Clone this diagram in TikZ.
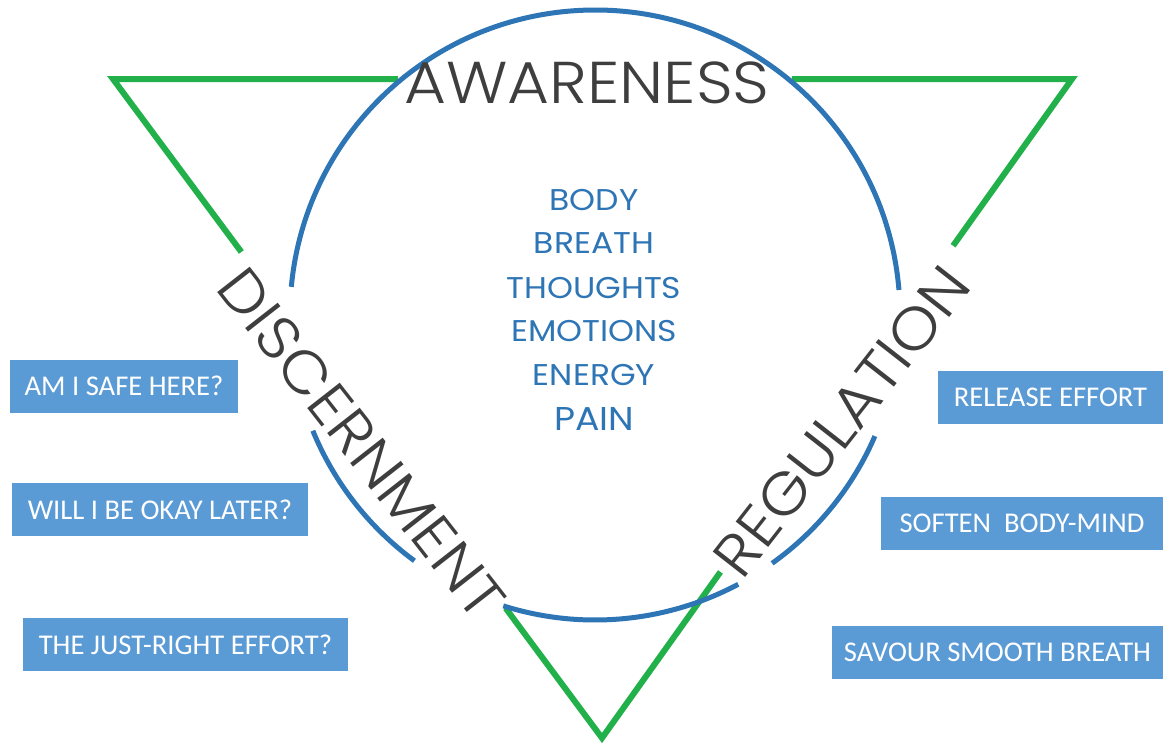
\documentclass[tikz,border=0pt]{standalone}
\usepackage{fontspec}
\usetikzlibrary{calc}
\newfontfamily\thinfont{Poppins Light}[FakeStretch=1.09]
\newfontfamily\listfont{Poppins}[FakeStretch=1.1]
\newfontfamily\boxfont{Carlito}
\definecolor{trigreen}{RGB}{34,176,75}
\definecolor{ringblue}{RGB}{46,117,182}
\definecolor{labelgray}{RGB}{62,62,62}
\definecolor{boxblue}{RGB}{91,155,213}

\begin{document}
\begin{tikzpicture}[x=1pt,y=-1pt,
    tri/.style={draw=trigreen,line width=6pt},
    ring/.style={draw=ringblue,line width=5pt},
    stage/.style={text=labelgray,font=\thinfont\fontsize{59}{62}\selectfont,inner sep=0pt,anchor=base},
    item/.style={text=ringblue,font=\listfont\fontsize{30}{33}\selectfont,inner sep=0pt,anchor=base},
    qbox/.style={fill=boxblue,text=white,font=\boxfont\fontsize{28.6}{32}\selectfont,minimum height=53pt,inner sep=0pt}]

  \path[fill=white] (0,0) rectangle (1166,742);
  \useasboundingbox (0,0) rectangle (1166,742);

  \coordinate (tl) at (113,79);
  \coordinate (tr) at (1072,79);
  \coordinate (bt) at (602,738);
  \coordinate (cc) at (595,315);

  % triangle, broken where the words sit
  \draw[tri] ($(tl)!0.2625!(bt)$) -- (tl) -- ($(tl)!0.297!(tr)$);
  \draw[tri] ($(tl)!0.708!(tr)$) -- (tr) -- ($(tr)!0.253!(bt)$);
  \draw[tri] ($(tl)!0.803!(bt)$) -- (bt) -- ($(tr)!0.748!(bt)$);

  % circle pieces
  \foreach \a/\b in {-4.7/-174.7, 126.3/157.7, 62/107.5, 23.4/54.5}
    \draw[ring] (cc) ++(\a:305) arc[start angle=\a, end angle=\b, radius=305];

  \node[stage] (awareness) at (587,103) {AWARENESS};
  \node[stage,rotate=-52] (discernment) at (345,456) {DISCERNMENT};
  \node[stage,rotate=52] (regulation) at (858,434) {REGULATION};

  \foreach \w/\y in {BODY/210,BREATH/253,THOUGHTS/298,EMOTIONS/341,ENERGY/385}
    \node[item] (\w) at (594,\y) {\w};
  \node[item,font=\listfont\fontsize{33}{35}\selectfont] (PAIN) at (594,430) {PAIN};

  \node[qbox,minimum width=228pt] (safe) at (124,386) {AM I SAFE HERE?};
  \node[qbox,minimum width=296pt] (later) at (160,509.5) {WILL I BE OKAY LATER?};
  \node[qbox,minimum width=325pt] (justright) at (185.5,644.5) {THE JUST-RIGHT EFFORT?};

  \node[qbox,minimum width=225pt] (release) at (1050.5,397.5) {RELEASE EFFORT};
  \node[qbox,minimum width=282pt] (soften) at (1022,523.5) {SOFTEN\ \ BODY-MIND};
  \node[qbox,minimum width=331pt] (savour) at (997.5,652.5) {SAVOUR SMOOTH BREATH};
\end{tikzpicture}
\end{document}
